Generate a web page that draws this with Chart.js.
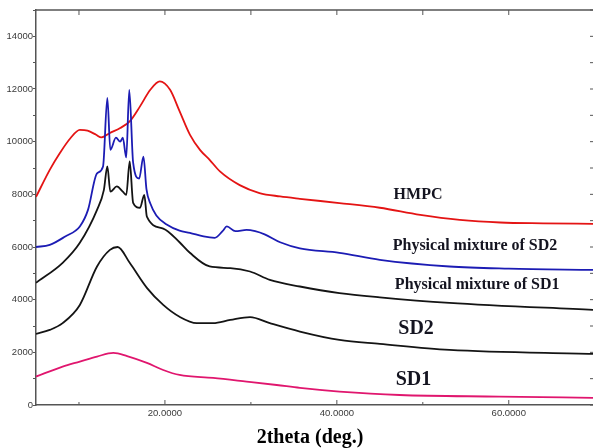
<!DOCTYPE html>
<html>
<head>
<meta charset="utf-8">
<script src="https://cdn.jsdelivr.net/npm/chart.js@4.4.1/dist/chart.umd.min.js"></script>
<style>
  html, body { margin: 0; padding: 0; background: #fff; }
  #wrap { width: 593px; height: 448px; }
</style>
</head>
<body>
<div id="wrap"><canvas id="xrd" width="593" height="448"></canvas></div>
<script>
// values (2theta in deg., intensity in counts)
const hmpcTheta = [5, 6.6, 7.8, 9.0, 10.1, 11.0, 12.0, 12.6, 13.6, 14.8, 15.9, 17.1, 18.3, 19.4, 20.6, 21.7, 22.9, 24.1, 25.2, 26.4, 28.7, 31.0, 33.4, 35.7, 40.3, 45.0, 49.7, 54.3, 59.0, 64.0, 69.8];
const hmpcCounts = [7900, 8930, 9580, 10130, 10450, 10420, 10260, 10160, 10330, 10520, 10770, 11340, 11970, 12290, 11970, 11160, 10270, 9680, 9310, 8870, 8350, 8050, 7920, 7830, 7670, 7490, 7220, 7030, 6930, 6900, 6880];

const pm2Theta = [5, 6.6, 8.4, 10.1, 11.05, 12.1, 12.8, 13.3, 13.65, 14.3, 14.8, 15.1, 15.5, 15.85, 16.3, 17.0, 17.5, 17.85, 18.3, 19.0, 20.2, 21.7, 22.9, 24.5, 25.8, 26.7, 27.2, 28.2, 29.5, 30.5, 31.6, 33.4, 35.7, 40.3, 45.0, 53.1, 60.0, 69.8];
const pm2Counts = [6000, 6080, 6400, 6780, 7410, 8800, 9060, 11660, 9690, 10150, 10000, 10150, 9400, 11970, 9200, 8600, 9430, 8200, 7650, 7200, 6850, 6620, 6540, 6400, 6350, 6600, 6780, 6600, 6650, 6600, 6480, 6180, 5950, 5780, 5510, 5260, 5180, 5130];

const pm1Theta = [5, 8.1, 10.1, 12.1, 12.9, 13.3, 13.65, 14.4, 15.1, 15.5, 15.9, 16.3, 17.1, 17.6, 17.9, 19.8, 21.7, 22.9, 25.2, 27.6, 29.9, 32.2, 35.7, 40.3, 45.0, 53.1, 69.8];
const pm1Counts = [4640, 5400, 6160, 7410, 8170, 9060, 8100, 8300, 8100, 7980, 9250, 7680, 7490, 7980, 7150, 6700, 6180, 5780, 5260, 5200, 5070, 4750, 4500, 4250, 4090, 3880, 3610];

const sd2Theta = [5, 6.6, 8.1, 10.1, 12.1, 13.6, 14.5, 15.9, 17.9, 19.8, 21.7, 23.7, 25.6, 27.6, 29.9, 32.2, 35.7, 40.3, 45.0, 53.1, 69.8];
const sd2Counts = [2700, 2850, 3110, 3800, 5260, 5890, 6000, 5400, 4450, 3800, 3350, 3110, 3110, 3230, 3340, 3110, 2790, 2470, 2320, 2090, 1940];

const sd1Theta = [5, 8.1, 10.1, 12.1, 14.0, 15.6, 17.9, 19.8, 21.7, 25.6, 29.5, 33.0, 35.7, 40.3, 47.3, 58.9, 69.8];
const sd1Counts = [1080, 1460, 1650, 1840, 1980, 1860, 1600, 1330, 1140, 1030, 890, 760, 650, 510, 380, 320, 270];

const xTicks = [10, 20, 30, 40, 50, 60];
const xLabelTicks = [20, 40, 60];
const yTicks = [0, 1000, 2000, 3000, 4000, 5000, 6000, 7000, 8000, 9000, 10000, 11000, 12000, 13000, 14000, 15000];

const curveNames = ['HMPC', 'Physical mixture of SD2', 'Physical mixture of SD1', 'SD2', 'SD1'];
const nameTheta = [46.6, 46.5, 46.75, 47.15, 46.85];
const nameCounts = [7810, 5885, 4390, 2685, 760];
const nameSizes = [16, 16, 16, 20, 20];

const pts = (xs, ys) => xs.map((v, i) => ({ x: v, y: ys[i] }));

function line(label, xs, ys, color) {
    return {
        label: label,
        data: pts(xs, ys),
        borderColor: color,
        borderWidth: 1.8,
        pointRadius: 0,
        fill: false,
        cubicInterpolationMode: 'monotone'
    };
}

const framePlugin = {
    id: 'frame',
    afterDraw(chart) {
        const { ctx, chartArea: a, scales: { x, y } } = chart;
        ctx.save();
        ctx.strokeStyle = '#555';
        ctx.lineWidth = 1.5;
        ctx.beginPath();
        ctx.moveTo(a.left, a.top);
        ctx.lineTo(a.right, a.top);
        ctx.stroke();

        ctx.lineWidth = 1;
        xTicks.forEach(v => {
            const px = x.getPixelForValue(v);
            const len = xLabelTicks.includes(v) ? 5 : 3;
            ctx.beginPath();
            ctx.moveTo(px, a.bottom);
            ctx.lineTo(px, a.bottom - len);
            ctx.moveTo(px, a.top);
            ctx.lineTo(px, a.top + 5);
            ctx.stroke();
        });
        yTicks.forEach(v => {
            const py = y.getPixelForValue(v);
            ctx.beginPath();
            ctx.moveTo(a.right, py);
            ctx.lineTo(a.right - 3, py);
            ctx.stroke();
        });

        ctx.fillStyle = '#141420';
        ctx.textAlign = 'left';
        ctx.textBaseline = 'alphabetic';
        curveNames.forEach((name, i) => {
            ctx.font = 'bold ' + nameSizes[i] + 'px "Liberation Serif", "Times New Roman", serif';
            ctx.fillText(name, x.getPixelForValue(nameTheta[i]), y.getPixelForValue(nameCounts[i]));
        });

        ctx.fillStyle = '#000';
        ctx.textAlign = 'center';
        ctx.font = 'bold 20px "Liberation Serif", "Times New Roman", serif';
        ctx.fillText('2theta (deg.)', 310, 443);
        ctx.restore();
    }
};

const tickFont = { family: '"Liberation Sans", Arial, sans-serif', size: 9.5 };

new Chart(document.getElementById('xrd'), {
    type: 'line',
    data: {
        datasets: [
            line('SD1', sd1Theta, sd1Counts, '#e0166e'),
            line('SD2', sd2Theta, sd2Counts, '#141414'),
            line('Physical mixture of SD1', pm1Theta, pm1Counts, '#141414'),
            line('Physical mixture of SD2', pm2Theta, pm2Counts, '#1c1cb4'),
            line('HMPC', hmpcTheta, hmpcCounts, '#e41414')
        ]
    },
    options: {
        responsive: false,
        animation: false,
        layout: { padding: { top: 10, right: 0, bottom: 0, left: 0 } },
        plugins: { legend: { display: false }, tooltip: { enabled: false } },
        scales: {
            x: {
                type: 'linear',
                min: 5,
                max: 69.8,
                afterBuildTicks: s => { s.ticks = xTicks.map(v => ({ value: v })); },
                afterFit: s => { s.height = 43; },
                grid: { display: false, drawTicks: false },
                border: { display: true, color: '#555', width: 1.5 },
                ticks: {
                    autoSkip: false,
                    maxRotation: 0,
                    padding: 3,
                    color: '#3a3a3a',
                    font: tickFont,
                    callback: v => xLabelTicks.includes(v) ? v.toFixed(4) : ''
                }
            },
            y: {
                type: 'linear',
                min: 0,
                max: 15000,
                afterBuildTicks: s => { s.ticks = yTicks.map(v => ({ value: v })); },
                afterFit: s => { s.width = 36; },
                grid: { drawOnChartArea: false, tickLength: 3, color: '#555' },
                border: { display: true, color: '#555', width: 1.5 },
                ticks: {
                    autoSkip: false,
                    padding: 0,
                    color: '#3a3a3a',
                    font: tickFont,
                    callback: v => v % 2000 === 0 ? String(v) : ''
                }
            }
        }
    },
    plugins: [framePlugin]
});
</script>
</body>
</html>
